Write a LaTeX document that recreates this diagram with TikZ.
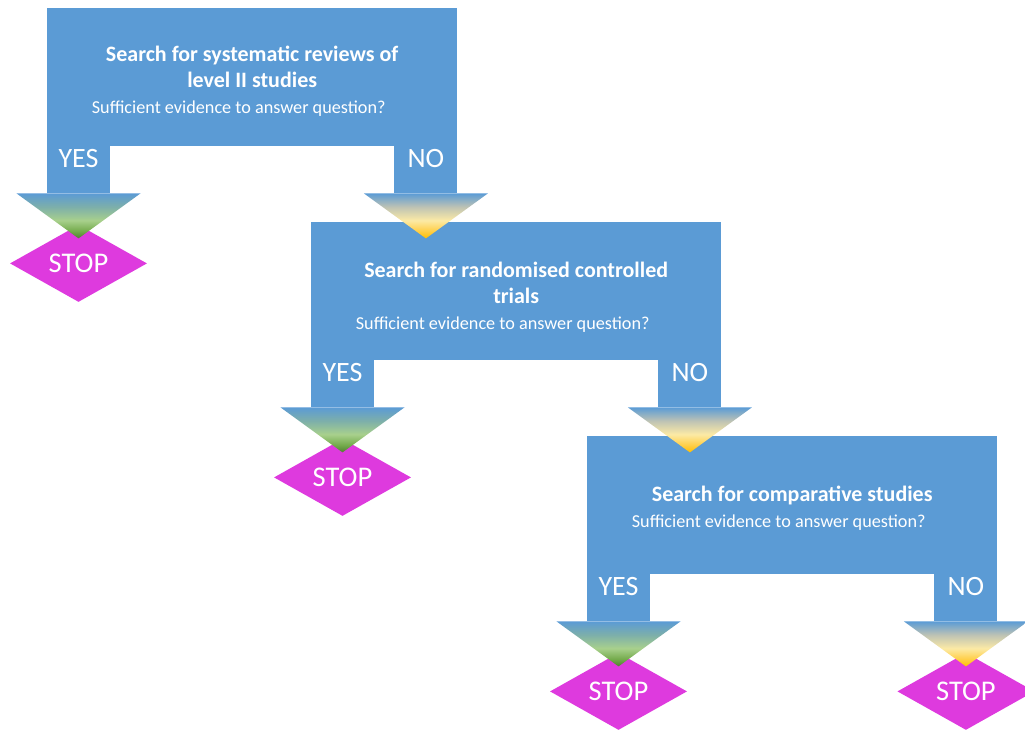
\documentclass[tikz,border=0pt]{standalone}
\usepackage{fontspec}
\setmainfont{Carlito}
\usetikzlibrary{shapes.geometric,calc}

\definecolor{boxblue}{RGB}{91,155,213}
\definecolor{stopmag}{RGB}{222,58,222}

% arrowhead fades, tip (25bp) to top (75bp)
\pgfdeclareverticalshading{yesfade}{100bp}{color(0bp)=(rgb,255:red,80;green,125;blue,50);
	color(25bp)=(rgb,255:red,80;green,125;blue,50); color(33bp)=(rgb,255:red,115;green,170;blue,75);
	color(45bp)=(rgb,255:red,168;green,208;blue,140); color(60bp)=(rgb,255:red,125;green,175;blue,170);
	color(75bp)=(rgb,255:red,91;green,155;blue,213); color(100bp)=(rgb,255:red,91;green,155;blue,213)}
\pgfdeclareverticalshading{nofade}{100bp}{color(0bp)=(rgb,255:red,255;green,190;blue,0);
	color(25bp)=(rgb,255:red,255;green,190;blue,0); color(33bp)=(rgb,255:red,255;green,206;blue,70);
	color(45bp)=(rgb,255:red,252;green,234;blue,165); color(60bp)=(rgb,255:red,190;green,195;blue,180);
	color(75bp)=(rgb,255:red,91;green,155;blue,213); color(100bp)=(rgb,255:red,91;green,155;blue,213)}

\tikzset{
	question/.style={fill=boxblue, anchor=north west, minimum width=410, minimum height=138, inner sep=0,
		text=white, align=center, font=\fontsize{18.2}{26}\selectfont},
	legtext/.style={text=white, inner sep=0, font=\fontsize{28}{28}\selectfont},
	stopsign/.style={diamond, aspect=1.78, fill=stopmag, minimum width=137, minimum height=77, inner sep=0,
		text=white, font=\fontsize{28.5}{28}\selectfont},
	yeshead/.style={shading=yesfade},
	nohead/.style={shading=nofade}
}

\newcommand\qtitle[1]{{\fontsize{22}{26}\selectfont\bfseries #1}}
\newcommand\qlift[1]{\rule{0pt}{#1}}
\newcommand\qnote{Sufficient evidence to answer question?\hspace*{27pt}}

% leg below a box: corner, side (1 left, -1 right), label, head style
\newcommand\branch[4]{
	\fill[boxblue] (#1) rectangle ($(#1)+(#2*63,47)$);
	\node[legtext] at ($(#1)+(#2*31.5,12)$) {#3};
	\shade[#4] ($(#1)+(#2*31.5-62,47)$) -- ($(#1)+(#2*31.5+62,47)$) -- ($(#1)+(#2*31.5,92)$) -- cycle;
}

\begin{document}
\begin{tikzpicture}[x=1pt,y=-1pt]
	\useasboundingbox (0,0) rectangle (1025,731);

	\node[question] (q1) at (47,8) {\qlift{23pt}\qtitle{Search for systematic reviews of}\\\qtitle{level II studies}\\\qnote};
	\node[question] (q2) at (311,222) {\qlift{28pt}\qtitle{Search for randomised controlled}\\\qtitle{trials}\\\qnote};
	\node[question] (q3) at (587,436) {\qlift{22pt}\qtitle{Search for comparative studies}\\\qnote};

	\node[stopsign] (s1) at ($(q1.south west)+(31.5,117)$) {STOP};
	\node[stopsign] (s2) at ($(q2.south west)+(31.5,117)$) {STOP};
	\node[stopsign] (s3) at ($(q3.south west)+(31.5,117)$) {STOP};
	\node[stopsign] (s4) at ($(q3.south east)+(-31.5,117)$) {STOP};

	\branch{q1.south west}{1}{YES}{yeshead}
	\branch{q1.south east}{-1}{NO}{nohead}
	\branch{q2.south west}{1}{YES}{yeshead}
	\branch{q2.south east}{-1}{NO}{nohead}
	\branch{q3.south west}{1}{YES}{yeshead}
	\branch{q3.south east}{-1}{NO}{nohead}
\end{tikzpicture}
\end{document}
